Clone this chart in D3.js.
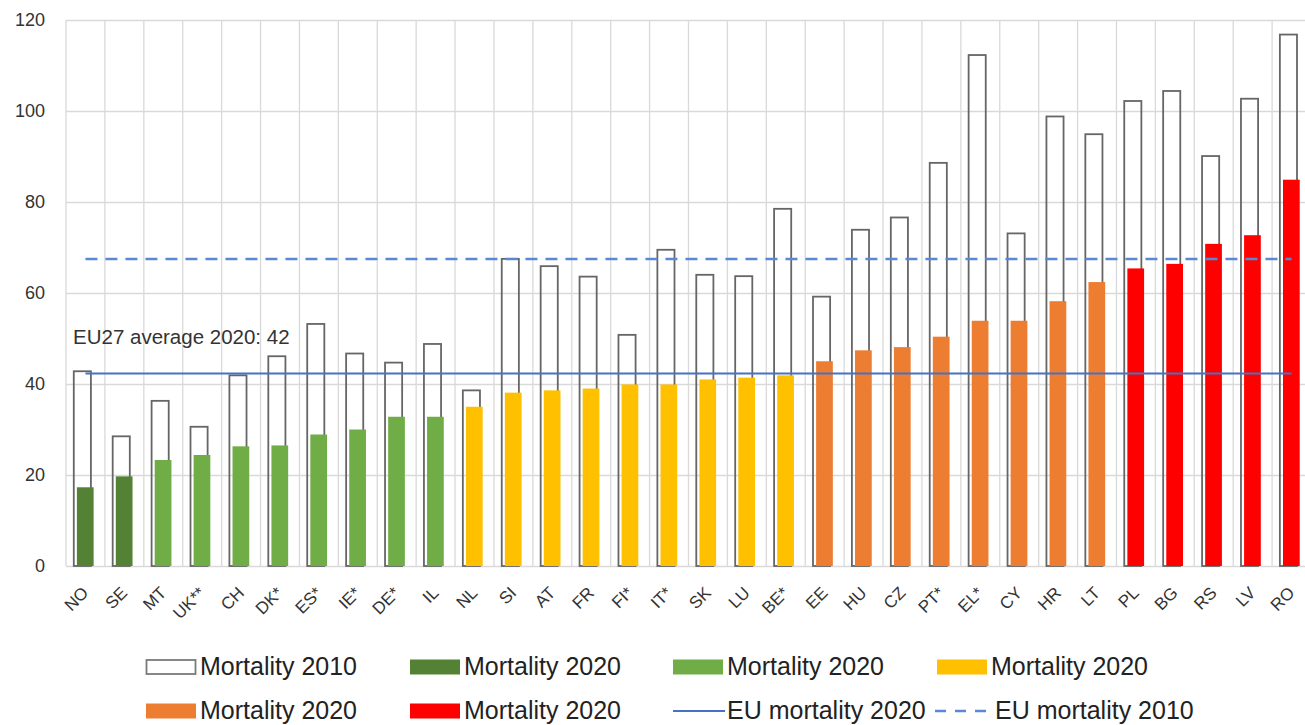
<!DOCTYPE html>
<html lang="en">
  <head>
    <meta charset="UTF-8" />
    <title>Mortality 2010 vs 2020</title>
    <style>
      body { margin: 0; background: #fff; }
      svg { font-family: "Liberation Sans", Arial, sans-serif; }
    </style>
  </head>
  <body>
    <svg id="svg" width="1305" height="725"></svg>
    <script src="https://d3js.org/d3.v7.min.js"></script>
    <script>
      // Data
      const countries = ["NO", "SE", "MT", "UK**", "CH", "DK*", "ES*", "IE*", "DE*", "IL",
        "NL", "SI", "AT", "FR", "FI*", "IT*", "SK", "LU", "BE*",
        "EE", "HU", "CZ", "PT*", "EL*", "CY", "HR", "LT",
        "PL", "BG", "RS", "LV", "RO"];
      const mortality2010 = [42.8, 28.5, 36.3, 30.6, 41.9, 46.1, 53.2, 46.7, 44.7, 48.8,
        38.6, 67.5, 65.9, 63.6, 50.8, 69.5, 64.0, 63.7, 78.5,
        59.2, 73.9, 76.6, 88.6, 112.3, 73.1, 98.8, 94.9,
        102.2, 104.4, 90.1, 102.7, 116.8];
      const mortality2020 = [17.3, 19.7, 23.3, 24.4, 26.3, 26.5, 28.9, 30.0, 32.8, 32.8,
        35.0, 38.1, 38.6, 39.0, 39.9, 39.9, 41.0, 41.4, 41.9,
        45.0, 47.4, 48.1, 50.4, 53.9, 53.9, 58.2, 62.4,
        65.4, 66.4, 70.8, 72.7, 84.9];
      // colour group of each 2020 bar
      const groups = [0, 0, 1, 1, 1, 1, 1, 1, 1, 1,
        2, 2, 2, 2, 2, 2, 2, 2, 2,
        3, 3, 3, 3, 3, 3, 3, 3,
        4, 4, 4, 4, 4];
      const groupColors = ["#548235", "#70ad47", "#ffc000", "#ed7d31", "#ff0000"];
      const euAverage2020 = 42.3;
      const euAverage2010 = 67.5;
      const yTicks = [0, 20, 40, 60, 80, 100, 120];

      const svg = d3.select("#svg");
      const plot = { left: 66, right: 1311, top: 20, bottom: 566 };

      const x = d3.scaleBand().domain(countries).range([plot.left, plot.right]).padding(0);
      const y = d3.scaleLinear().domain([0, 120]).range([plot.bottom, plot.top]);
      const bw = x.bandwidth();

      // horizontal gridlines + y labels
      const yAxis = svg.append("g")
        .attr("transform", `translate(${plot.left},0)`)
        .call(d3.axisLeft(y).tickValues(yTicks).tickSize(-(1305 - plot.left)).tickPadding(21));
      yAxis.select(".domain").remove();
      yAxis.selectAll(".tick line").attr("stroke", "#d9d9d9").attr("stroke-width", 1.3);
      yAxis.selectAll(".tick text")
        .attr("fill", "#333")
        .style("font-size", "18px");

      // vertical gridlines at category edges
      const edges = countries.map((c) => x(c)).concat([x(countries[countries.length - 1]) + bw]);
      svg.append("g")
        .selectAll("line")
        .data(edges)
        .join("line")
        .attr("x1", (d) => d)
        .attr("x2", (d) => d)
        .attr("y1", plot.top)
        .attr("y2", plot.bottom)
        .attr("stroke", "#d9d9d9")
        .attr("stroke-width", 1.3);

      // 2010 outline bars
      svg.append("g")
        .selectAll("rect")
        .data(countries)
        .join("rect")
        .attr("x", (d) => x(d) + bw * 0.2)
        .attr("y", (d, i) => y(mortality2010[i]))
        .attr("width", bw * 0.44)
        .attr("height", (d, i) => y(0) - y(mortality2010[i]))
        .attr("fill", "none")
        .attr("stroke", "#666")
        .attr("stroke-width", 1.8);

      // 2020 filled bars
      svg.append("g")
        .selectAll("rect")
        .data(countries)
        .join("rect")
        .attr("x", (d) => x(d) + bw * 0.28)
        .attr("y", (d, i) => y(mortality2020[i]))
        .attr("width", bw * 0.43)
        .attr("height", (d, i) => y(0) - y(mortality2020[i]))
        .attr("fill", (d, i) => groupColors[groups[i]]);

      // EU average lines, from first to last category centre
      const x0 = x(countries[0]) + bw / 2;
      const x1 = x(countries[countries.length - 1]) + bw / 2;
      svg.append("line")
        .attr("x1", x0).attr("x2", x1)
        .attr("y1", y(euAverage2020)).attr("y2", y(euAverage2020))
        .attr("stroke", "#4472c4")
        .attr("stroke-width", 2);
      svg.append("line")
        .attr("x1", x0).attr("x2", x1)
        .attr("y1", y(euAverage2010)).attr("y2", y(euAverage2010))
        .attr("stroke", "#5b88d6")
        .attr("stroke-width", 2.5)
        .attr("stroke-dasharray", "12,8");

      svg.append("text")
        .attr("x", 73)
        .attr("y", 344)
        .attr("fill", "#333")
        .style("font-size", "20.5px")
        .text("EU27 average 2020: " + Math.round(euAverage2020));

      // x axis labels
      const xAxis = svg.append("g")
        .attr("transform", `translate(0,${plot.bottom})`)
        .call(d3.axisBottom(x).tickSize(0));
      xAxis.select(".domain").remove();
      xAxis.selectAll(".tick text")
        .attr("y", 0)
        .attr("dy", 0)
        .attr("text-anchor", "end")
        .attr("transform", "translate(4,28) rotate(-45)")
        .attr("fill", "#333")
        .style("font-size", "17px");

      // legend
      const legendItems = [
        { label: "Mortality 2010", type: "outline", col: 0, row: 0 },
        { label: "Mortality 2020", type: "fill", color: groupColors[0], col: 1, row: 0 },
        { label: "Mortality 2020", type: "fill", color: groupColors[1], col: 2, row: 0 },
        { label: "Mortality 2020", type: "fill", color: groupColors[2], col: 3, row: 0 },
        { label: "Mortality 2020", type: "fill", color: groupColors[3], col: 0, row: 1 },
        { label: "Mortality 2020", type: "fill", color: groupColors[4], col: 1, row: 1 },
        { label: "EU mortality 2020", type: "line", col: 2, row: 1 },
        { label: "EU mortality 2010", type: "dash", col: 3, row: 1 },
      ];
      const colX = [146, 410, 673, 937];
      const rowY = [667, 711];

      const legend = svg.append("g")
        .selectAll("g")
        .data(legendItems)
        .join("g")
        .attr("transform", (d) => `translate(${colX[d.col]},${rowY[d.row]})`);

      legend.filter((d) => d.type === "outline")
        .append("rect")
        .attr("x", 0.5).attr("y", -7).attr("width", 49).attr("height", 14)
        .attr("fill", "#fff").attr("stroke", "#7a7a7a").attr("stroke-width", 1.8);
      legend.filter((d) => d.type === "fill")
        .append("rect")
        .attr("x", 0).attr("y", -7.5).attr("width", 50).attr("height", 15)
        .attr("fill", (d) => d.color);
      legend.filter((d) => d.type === "line")
        .append("line")
        .attr("x1", 0).attr("x2", 52).attr("y1", 0).attr("y2", 0)
        .attr("stroke", "#4472c4").attr("stroke-width", 2);
      legend.filter((d) => d.type === "dash")
        .append("line")
        .attr("x1", -2).attr("x2", 55).attr("y1", 0).attr("y2", 0)
        .attr("stroke", "#5b88d6").attr("stroke-width", 2.5)
        .attr("stroke-dasharray", "11,9");

      legend.append("text")
        .attr("x", (d) => (d.type === "dash" ? 58 : 54))
        .attr("y", 8)
        .attr("fill", "#222")
        .style("font-size", "25px")
        .text((d) => d.label);
    </script>
  </body>
</html>
